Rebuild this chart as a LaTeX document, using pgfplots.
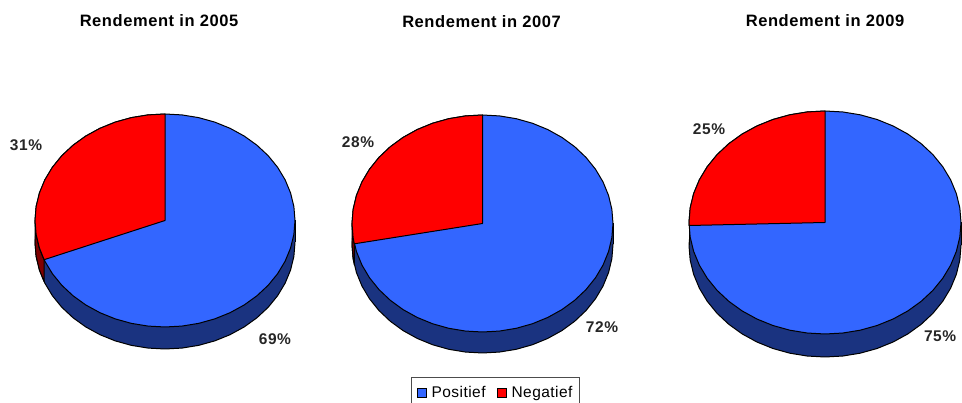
\documentclass[border=0pt]{standalone}
\usepackage{fontspec}
\setmainfont{Liberation Sans}
\newfontfamily\titlefont[LetterSpace=3.5,Ligatures=NoCommon]{Liberation Sans Bold}
\newfontfamily\legendfont[LetterSpace=3,Ligatures=NoCommon]{Liberation Sans}
\usepackage{pgfplots}
\usepackage{pgfplotstable}
\pgfplotsset{compat=1.18}

\definecolor{posblue}{HTML}{3366FF}
\definecolor{negred}{HTML}{FF0000}
\definecolor{posdark}{HTML}{1A3380}
\definecolor{negdark}{HTML}{800000}

% unit circle, clockwise from the top, every 7.5 degrees
\pgfplotstableread{
x y
0 1
.1305 .9914
.2588 .9659
.3827 .9239
.5 .8660
.6088 .7934
.7071 .7071
.7934 .6088
.8660 .5
.9239 .3827
.9659 .2588
.9914 .1305
1 0
.9914 -.1305
.9659 -.2588
.9239 -.3827
.8660 -.5
.7934 -.6088
.7071 -.7071
.6088 -.7934
.5 -.8660
.3827 -.9239
.2588 -.9659
.1305 -.9914
0 -1
-.1305 -.9914
-.2588 -.9659
-.3827 -.9239
-.5 -.8660
-.6088 -.7934
-.7071 -.7071
-.7934 -.6088
-.8660 -.5
-.9239 -.3827
-.9659 -.2588
-.9914 -.1305
-1 0
-.9914 .1305
-.9659 .2588
-.9239 .3827
-.8660 .5
-.7934 .6088
-.7071 .7071
-.6088 .7934
-.5 .8660
-.3827 .9239
-.2588 .9659
-.1305 .9914
0 1
}\circletable

\pgfplotsset{
  pie/.style={
    scale only axis,hide axis,clip=false,
    xmin=-1,xmax=1,ymin=-1,ymax=1,anchor=south west,
    title style={font=\titlefont\fontsize{16.5}{16.5}\selectfont,anchor=center},
  },
  slice/.style={draw=black,line width=1pt,line join=round,mark=none,forget plot},
}
\tikzset{pct/.style={font=\titlefont\fontsize{15.5}{15.5}\selectfont,text=black!85}}

\begin{document}
\begin{tikzpicture}[x=1pt,y=1pt]
\useasboundingbox (0,0) rectangle (962,403);

% 2005
\begin{axis}[pie,at={(35pt,76pt)},width=260pt,height=213pt,
  title={Rendement in 2005},title style={at={(.5,1)},xshift=-6pt,yshift=87pt}]
\addplot[slice,fill=posdark] table[x=x,y expr=\thisrow{y}-.2066] {\circletable} --cycle;
\addplot[fill=posdark,draw=none,mark=none,forget plot] coordinates {(-1,0) (1,0) (1,-.2066) (-1,-.2066)} --cycle;
\addplot[slice] coordinates {(-1,0) (-1,-.2066)};
\addplot[slice] coordinates {(1,0) (1,-.2066)};
\addplot[slice,fill=negdark] coordinates {(-.9298,-.3681) (-.9659,-.2588) (-.9914,-.1305) (-1,0) (-1,-.2066) (-.9914,-.3371) (-.9659,-.4654) (-.9298,-.5747)} --cycle;
\addplot[slice,fill=posblue] table {\circletable} --cycle;
\addplot[slice,fill=negred] coordinates {(0,0) (-.9298,-.3681) (-.9659,-.2588) (-.9914,-.1305) (-1,0) (-.9914,.1305) (-.9659,.2588) (-.9239,.3827) (-.8660,.5) (-.7934,.6088) (-.7071,.7071) (-.6088,.7934) (-.5,.8660) (-.3827,.9239) (-.2588,.9659) (-.1305,.9914) (0,1)} --cycle;
\node[pct] at (axis cs:-1.069,.709) {31\%};
\node[pct] at (axis cs:.846,-1.113) {69\%};
\end{axis}

% 2007
\begin{axis}[pie,at={(352pt,71pt)},width=261pt,height=217pt,
  title={Rendement in 2007},title style={at={(.5,1)},xshift=-1pt,yshift=87pt},
  legend style={at={(.226,-.207)},anchor=north west,draw=black!70,line width=1.3pt,
    font=\legendfont\fontsize{15.5}{15.5}\selectfont,inner xsep=5pt,inner ysep=7pt,
    /tikz/every even column/.append style={column sep=9pt},
    /tikz/every odd column/.append style={column sep=3pt}},
  legend columns=2,legend cell align=left]
\addlegendimage{legend image code/.code={\draw[black,line width=.9pt,fill=posblue] (0pt,-4.5pt) rectangle (9pt,4.5pt);}}
\addlegendentry{Positief}
\addlegendimage{legend image code/.code={\draw[black,line width=.9pt,fill=negred] (0pt,-4.5pt) rectangle (9pt,4.5pt);}}
\addlegendentry{Negatief}
\addplot[slice,fill=posdark] table[x=x,y expr=\thisrow{y}-.1935] {\circletable} --cycle;
\addplot[fill=posdark,draw=none,mark=none,forget plot] coordinates {(-1,0) (1,0) (1,-.1935) (-1,-.1935)} --cycle;
\addplot[slice] coordinates {(-1,0) (-1,-.1935)};
\addplot[slice] coordinates {(1,0) (1,-.1935)};
\addplot[slice,fill=negdark] coordinates {(-.9823,-.1874) (-.9914,-.1305) (-1,0) (-1,-.1935) (-.9914,-.3240) (-.9823,-.3809)} --cycle;
\addplot[slice,fill=posblue] table {\circletable} --cycle;
\addplot[slice,fill=negred] coordinates {(0,0) (-.9823,-.1874) (-.9914,-.1305) (-1,0) (-.9914,.1305) (-.9659,.2588) (-.9239,.3827) (-.8660,.5) (-.7934,.6088) (-.7071,.7071) (-.6088,.7934) (-.5,.8660) (-.3827,.9239) (-.2588,.9659) (-.1305,.9914) (0,1)} --cycle;
\node[pct] at (axis cs:-.954,.751) {28\%};
\node[pct] at (axis cs:.916,-.954) {72\%};
\end{axis}

% 2009
\begin{axis}[pie,at={(689pt,69pt)},width=272pt,height=223pt,
  title={Rendement in 2009},title style={at={(.5,1)},yshift=84pt}]
\addplot[slice,fill=posdark] table[x=x,y expr=\thisrow{y}-.2063] {\circletable} --cycle;
\addplot[fill=posdark,draw=none,mark=none,forget plot] coordinates {(-1,0) (1,0) (1,-.2063) (-1,-.2063)} --cycle;
\addplot[slice] coordinates {(-1,0) (-1,-.2063)};
\addplot[slice] coordinates {(1,0) (1,-.2063)};
\addplot[slice,fill=posblue] table {\circletable} --cycle;
\addplot[slice,fill=negred] coordinates {(0,0) (-.9996,-.027) (-1,0) (-.9914,.1305) (-.9659,.2588) (-.9239,.3827) (-.8660,.5) (-.7934,.6088) (-.7071,.7071) (-.6088,.7934) (-.5,.8660) (-.3827,.9239) (-.2588,.9659) (-.1305,.9914) (0,1)} --cycle;
\node[pct] at (axis cs:-.853,.839) {25\%};
\node[pct] at (axis cs:.846,-1.018) {75\%};
\end{axis}
\end{tikzpicture}
\end{document}
